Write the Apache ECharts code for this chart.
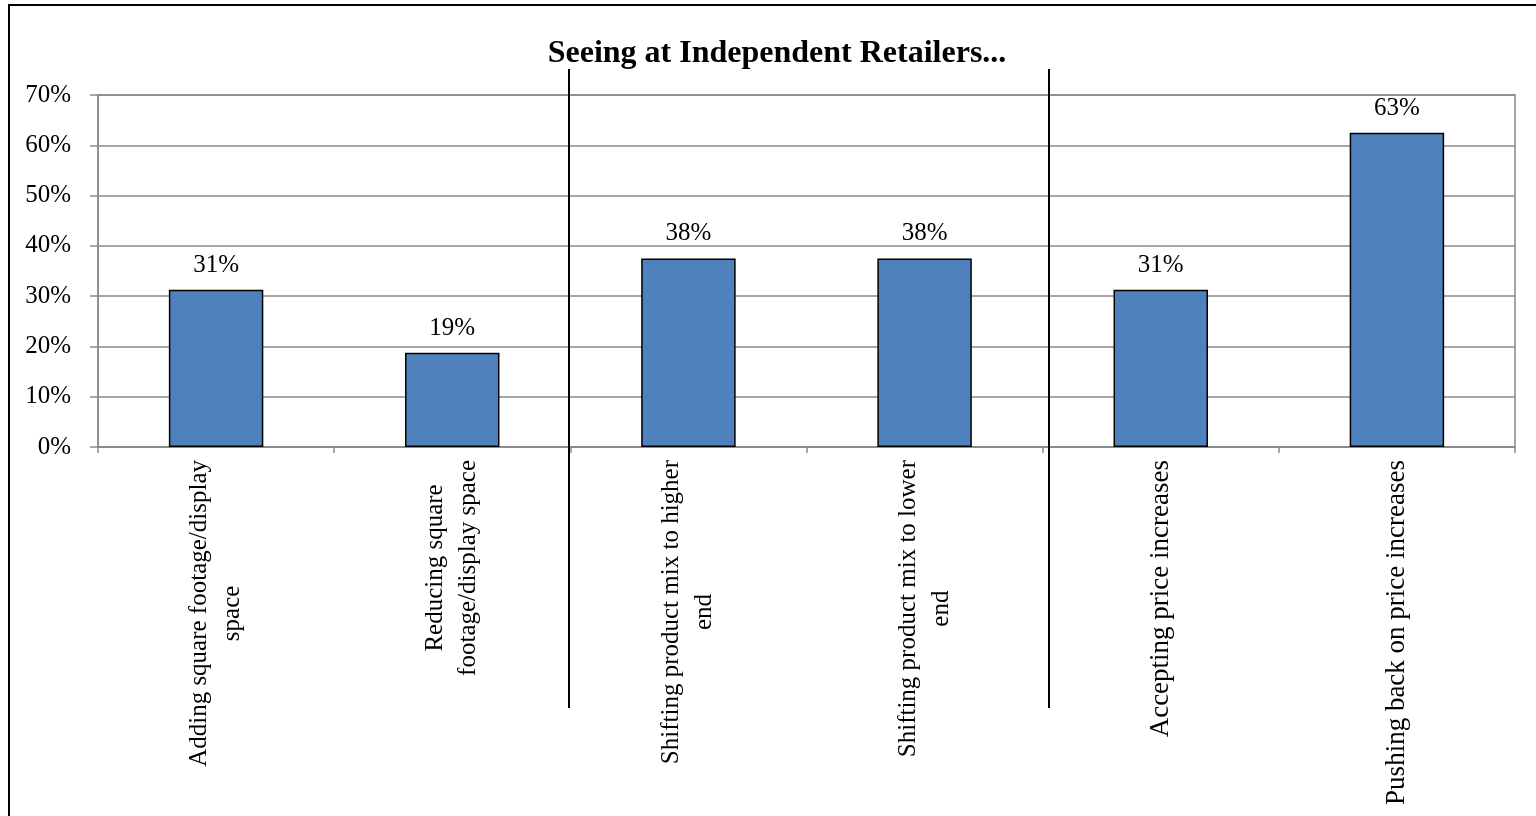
<!DOCTYPE html>
<html>
<head>
<meta charset="utf-8">
<title>Seeing at Independent Retailers...</title>
<script src="https://cdn.jsdelivr.net/npm/echarts@6/dist/echarts.min.js"></script>
<style>
  html, body { margin: 0; padding: 0; background: #ffffff; }
  #chart { width: 1536px; height: 816px; }
</style>
</head>
<body>
<div id="chart"></div>
<script>
// Chart data
const titleText = 'Seeing at Independent Retailers...';
const categories = [
  'Adding square footage/display\nspace',
  'Reducing square\nfootage/display space',
  'Shifting product mix to higher\nend',
  'Shifting product mix to lower\nend',
  'Accepting price increases',
  'Pushing back on price increases'
];
const shares = [31.25, 18.75, 37.5, 37.5, 31.25, 62.5];   // percent of respondents
const yTicks = { min: 0, max: 70, step: 10 };
// Group dividers sit after these category indices (between groups)
const dividerAfter = [1, 3];
const dividerNudge = [-1, 6];

const FONT = '"Liberation Serif", "Times New Roman", serif';
const GRID_GRAY = '#898989';

const chart = echarts.init(document.getElementById('chart'));

const option = {
  backgroundColor: '#ffffff',
  animation: false,
  title: {
    text: titleText,
    left: 772,
    top: 33,
    textAlign: 'center',
    textStyle: { fontFamily: FONT, fontWeight: 'bold', fontSize: 32, color: '#000' }
  },
  grid: {
    left: 98, right: 21, top: 95, bottom: 369,
    show: true, borderColor: GRID_GRAY, borderWidth: 1.5, backgroundColor: 'transparent'
  },
  xAxis: {
    type: 'category',
    data: categories,
    axisLine: { lineStyle: { color: GRID_GRAY, width: 1.5 } },
    axisTick: { show: true, alignWithLabel: false, length: 6, lineStyle: { color: GRID_GRAY, width: 1.5 } },
    axisLabel: {
      interval: 0,
      rotate: 90,
      margin: 13,
      // wrapped labels are set a little tighter, lines centred on each other
      formatter: v => {
        const lines = v.split('\n');
        const key = lines.length > 1 ? 'w' : 'c';
        return lines.map(l => '{' + key + '|' + l + '}').join('\n');
      },
      rich: {
        c: { align: 'center', fontFamily: FONT, fontSize: 27, lineHeight: 33, color: '#000' },
        w: { align: 'center', fontFamily: FONT, fontSize: 25, lineHeight: 33, color: '#000' }
      }
    }
  },
  yAxis: {
    type: 'value',
    min: yTicks.min,
    max: yTicks.max,
    interval: yTicks.step,
    axisLine: { show: true, lineStyle: { color: GRID_GRAY, width: 1.5 } },
    axisTick: { show: true, length: 8, lineStyle: { color: GRID_GRAY, width: 1.5 } },
    splitLine: { show: true, lineStyle: { color: GRID_GRAY, width: 1.5 } },
    axisLabel: {
      margin: 27,
      formatter: v => v + '%',
      fontFamily: FONT, fontSize: 25, color: '#000'
    }
  },
  series: [{
    type: 'bar',
    data: shares,
    barWidth: '40%',
    itemStyle: { color: '#4F81BD', borderColor: '#000', borderWidth: 1.5 },
    label: {
      show: true,
      position: 'top',
      distance: 12,
      formatter: p => Math.round(p.value) + '%',
      fontFamily: FONT, fontSize: 25, color: '#000'
    }
  }]
};

chart.setOption(option);

// Outer frame and group divider lines, placed from the axis scale
function drawDecorations() {
  const x0 = chart.convertToPixel({ gridIndex: 0 }, [0, 0]);
  const x1 = chart.convertToPixel({ gridIndex: 0 }, [1, 0]);
  const step = x1[0] - x0[0];
  const elements = [{
    type: 'rect',
    shape: { x: 9, y: 5, width: 1600, height: 900 },
    style: { fill: 'none', stroke: '#000', lineWidth: 2 },
    silent: true
  }];
  dividerAfter.forEach((i, k) => {
    const xc = chart.convertToPixel({ gridIndex: 0 }, [i, 0])[0];
    const x = Math.round(xc + step / 2) + dividerNudge[k];
    elements.push({
      type: 'line',
      shape: { x1: x, y1: 69, x2: x, y2: 708 },
      style: { stroke: '#000', lineWidth: 2 },
      silent: true,
      z: 100
    });
  });
  chart.setOption({ graphic: { elements } });
}
drawDecorations();
</script>
</body>
</html>
